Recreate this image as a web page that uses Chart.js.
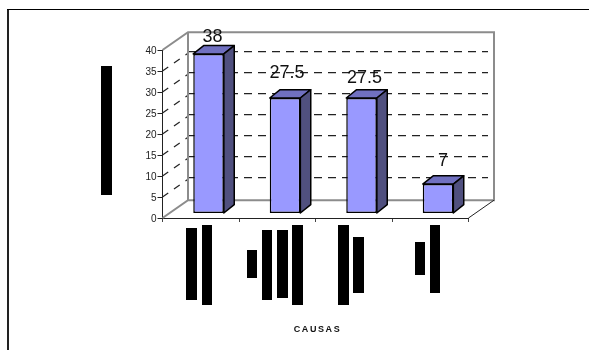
<!DOCTYPE html>
<html>
<head>
<meta charset="utf-8">
<title>Causas</title>
<script src="https://cdn.jsdelivr.net/npm/chart.js@4/dist/chart.umd.min.js"></script>
<style>
    html, body { margin: 0; padding: 0; background: #fff; }
    canvas { display: block; }
</style>
</head>
<body>
<canvas id="grafico" width="589" height="350"></canvas>
<script>
const categorias = ['Causa 1', 'Causa 2', 'Causa 3', 'Causa 4'];
const valores = [38, 27.5, 27.5, 7];
const etiquetas = ['38', '27.5', '27.5', '7'];
const marcasY = [5, 10, 15, 20, 25, 30, 35];
const tituloX = 'CAUSAS';

//Desplazamiento de cada etiqueta respecto a la cara frontal de su barra
const ajusteEtiquetas = [[4, -17], [2, -24.5], [3, -19.5], [5, -23.5]];

//Bloques negros que tapan los rótulos: [x, y, ancho, alto]
const bloques = [
    [101, 66, 11, 129],
    [186, 228, 11, 72], [202, 225, 10, 80],
    [247, 250, 10, 28], [262, 230, 10, 70], [277, 230, 11, 68], [292, 225, 11, 80],
    [338, 225, 11, 80], [353, 237, 11, 56],
    [415, 242, 10, 33], [430, 225, 10, 68]
];

//Profundidad de la caja y de las barras, y posición de las barras dentro de ella
const caja = { dx: 25.5, dy: -17.8, dyRejilla: -19.3 };
const barra3d = { dx: 10.4, dy: -8.3 };
const planoBarras = { dx: 7.8, dy: -4.5 };

function poligono(ctx, puntos) {
    ctx.beginPath();
    puntos.forEach(function (p, i) {
        if (i == 0) ctx.moveTo(p[0], p[1]);
        else ctx.lineTo(p[0], p[1]);
    });
}

//Paredes y rejilla en perspectiva, dibujadas desde las escalas del gráfico
function dibujarCaja(chart) {
    const ctx = chart.ctx;
    const y = chart.scales.y;
    const izq = chart.chartArea.left;
    const der = chart.chartArea.right;
    const y0 = y.getPixelForValue(0);
    const yMax = y.getPixelForValue(40);

    ctx.save();
    ctx.lineWidth = 1.2;
    ctx.strokeStyle = '#222';
    marcasY.forEach(function (v) {
        const py = y.getPixelForValue(v);
        ctx.setLineDash([7, 7]);
        poligono(ctx, [[izq, py], [izq + caja.dx, py + caja.dy]]);
        ctx.stroke();
        ctx.setLineDash([8, 6]);
        poligono(ctx, [[izq + caja.dx, py + caja.dyRejilla], [der + caja.dx - 6, py + caja.dyRejilla]]);
        ctx.stroke();
    });
    ctx.setLineDash([]);

    ctx.lineWidth = 2;
    ctx.strokeStyle = '#8c8c8c';
    poligono(ctx, [
        [izq, yMax],
        [izq + caja.dx, yMax + caja.dy],
        [der + caja.dx, yMax + caja.dy],
        [der + caja.dx, y0 + caja.dy],
        [izq + caja.dx, y0 + caja.dy],
        [izq, y0]
    ]);
    ctx.stroke();
    poligono(ctx, [[izq + caja.dx, yMax + caja.dy], [izq + caja.dx, y0 + caja.dy]]);
    ctx.stroke();

    ctx.lineWidth = 1;
    ctx.strokeStyle = '#222';
    poligono(ctx, [[der, y0], [der + caja.dx, y0 + caja.dy]]);
    ctx.stroke();
    ctx.restore();
}

const plugin3d = {
    id: 'plugin3d',
    beforeDatasetsDraw: function (chart) {
        const ctx = chart.ctx;
        dibujarCaja(chart);
        ctx.save();
        ctx.translate(planoBarras.dx, planoBarras.dy);
        ctx.lineWidth = 1.5;
        ctx.strokeStyle = '#000';
        ctx.lineJoin = 'round';
        chart.getDatasetMeta(0).data.forEach(function (barra) {
            const der = barra.x + barra.width / 2;
            const izq = barra.x - barra.width / 2;
            //Cara superior
            poligono(ctx, [
                [izq, barra.y], [izq + barra3d.dx, barra.y + barra3d.dy],
                [der + barra3d.dx, barra.y + barra3d.dy], [der, barra.y]
            ]);
            ctx.closePath();
            ctx.fillStyle = '#7070c0';
            ctx.fill();
            ctx.stroke();
            //Cara lateral
            poligono(ctx, [
                [der, barra.y], [der + barra3d.dx, barra.y + barra3d.dy],
                [der + barra3d.dx, barra.base + barra3d.dy], [der, barra.base]
            ]);
            ctx.closePath();
            ctx.fillStyle = '#50507f';
            ctx.fill();
            ctx.stroke();
        });
    },
    afterDatasetsDraw: function (chart) {
        const ctx = chart.ctx;
        chart.getDatasetMeta(0).data.forEach(function (barra, i) {
            ctx.fillStyle = '#111';
            ctx.font = '18px "Liberation Sans"';
            ctx.textAlign = 'center';
            ctx.textBaseline = 'middle';
            ctx.fillText(etiquetas[i], barra.x + ajusteEtiquetas[i][0], barra.y + ajusteEtiquetas[i][1]);
        });
        ctx.restore();
    },
    afterDraw: function (chart) {
        const ctx = chart.ctx;
        ctx.save();
        ctx.fillStyle = '#000';
        bloques.forEach(function (b) {
            ctx.fillRect(b[0], b[1], b[2], b[3]);
        });
        //Título del eje X con las letras separadas
        ctx.fillStyle = '#111';
        ctx.font = 'bold 9px "Liberation Sans"';
        ctx.letterSpacing = '1.6px';
        ctx.textAlign = 'center';
        ctx.textBaseline = 'middle';
        ctx.fillText(tituloX, chart.scales.x.getPixelForValue(1.5) + 2, chart.chartArea.bottom + 112);
        ctx.letterSpacing = '0px';
        //Marco exterior, abierto por la derecha y por abajo
        ctx.fillStyle = '#222';
        ctx.fillRect(7, 9, 2, 341);
        ctx.fillStyle = '#000';
        ctx.fillRect(7, 9, 582, 1);
        ctx.restore();
    }
};

const fondoBlanco = {
    id: 'fondoBlanco',
    beforeDraw: function (chart) {
        chart.ctx.save();
        chart.ctx.fillStyle = '#fff';
        chart.ctx.fillRect(0, 0, chart.width, chart.height);
        chart.ctx.restore();
    }
};

new Chart(document.getElementById('grafico'), {
    type: 'bar',
    data: {
        labels: categorias,
        datasets: [{
            data: valores,
            backgroundColor: '#9999ff',
            borderColor: '#000',
            borderWidth: 1.5,
            borderSkipped: false,
            barPercentage: 0.4,
            categoryPercentage: 1
        }]
    },
    plugins: [fondoBlanco, plugin3d],
    options: {
        responsive: false,
        animation: false,
        events: [],
        layout: { padding: { top: 50, right: 120.5, left: 0, bottom: 0 } },
        plugins: { legend: { display: false }, tooltip: { enabled: false } },
        scales: {
            x: {
                afterFit: function (escala) { escala.height = 132; },
                grid: { drawOnChartArea: false, color: '#444', tickLength: 4 },
                border: { color: '#222', width: 1 },
                ticks: { display: false }
            },
            y: {
                min: 0,
                max: 40,
                afterFit: function (escala) { escala.width = 162.5; },
                grid: { drawOnChartArea: false, color: '#222', tickLength: 5 },
                border: { color: '#222', width: 1 },
                ticks: {
                    stepSize: 5,
                    padding: 1,
                    color: '#222',
                    font: { family: '"Liberation Sans"', size: 10, lineHeight: 0.2 },
                    //Línea vacía delante: baja el número un píxel respecto a su marca
                    callback: function (valor) { return ['', String(valor)]; }
                }
            }
        }
    }
});
</script>
</body>
</html>
